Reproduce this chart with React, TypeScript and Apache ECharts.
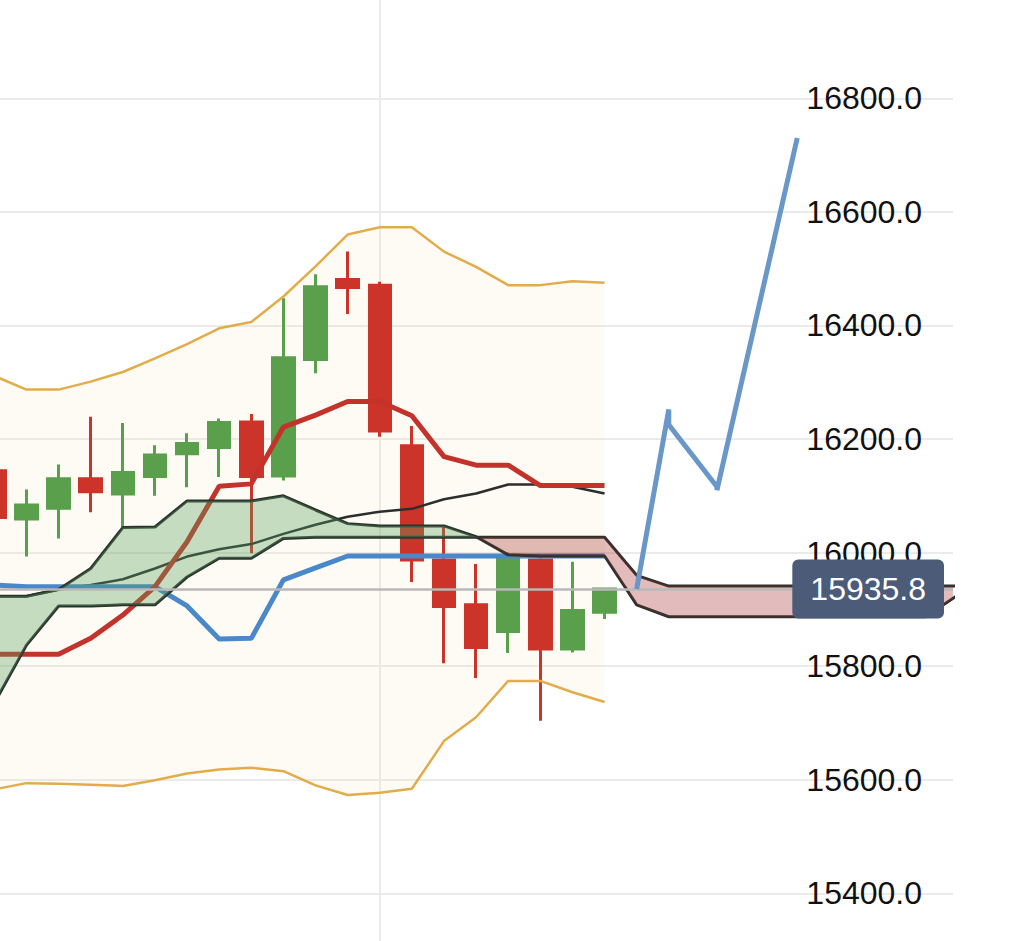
import React, { useEffect, useRef } from "react";
import * as echarts from "echarts";

// ---- data ----
const CANDLE_X = [0, 1, 2, 3, 4, 5, 6, 7, 8, 9, 10, 11, 12, 13, 14, 15, 16, 17, 18, 19];
const OPEN = [16144, 16059, 16078, 16130, 16103, 16134, 16174, 16185, 16230, 16135, 16340, 16481, 16471, 16188, 15987, 15908, 15861, 15987, 15830, 15895];
const CLOSE = [16062, 16084, 16130, 16107, 16141, 16172, 16192, 16229, 16134, 16343, 16468, 16467, 16214, 15987, 15905, 15833, 15991, 15830, 15898, 15935.8];
const LOW = [16040, 15993, 16025, 16071, 16045, 16100, 16115, 16133, 15999, 16127, 16316, 16420, 16204, 15948, 15805, 15779, 15823, 15704, 15824, 15883];
const HIGH = [16160, 16111, 16155, 16239, 16228, 16189, 16210, 16236, 16244, 16448, 16490, 16530, 16477, 16223, 16045, 15980, 16000, 15990, 15984, 15935.8];

const BB_UPPER = [16311, 16287, 16287, 16301, 16318, 16342, 16367, 16395, 16406, 16451, 16504, 16560, 16573, 16573, 16530, 16503, 16471, 16471, 16478, 16475];
const BB_MIDDLE = [15923, 15923, 15935, 15943, 15953, 15972, 15993, 16006, 16015, 16033, 16049, 16063, 16072, 16077, 16094, 16104, 16120, 16120, 16116, 16104];
const BB_LOWER = [15583, 15594, 15593, 15591, 15589, 15599, 15611, 15618, 15621, 15615, 15590, 15573, 15577, 15584, 15668, 15710, 15774, 15774, 15754, 15737];

const TENKAN = [15821, 15821, 15821, 15849, 15890, 15940, 16019, 16117, 16121, 16221, 16242, 16266, 16266, 16241, 16169, 16154, 16154, 16118, 16118, 16118];
const KIJUN = [15943, 15940, 15940, 15940, 15940, 15940, 15906, 15848, 15849, 15952, 15973, 15994, 15994, 15994, 15994, 15994, 15994, 15994, 15994, 15994];

const CLOUD_X = [0, 1, 2, 3, 4, 5, 6, 7, 8, 9, 10, 11, 12, 13, 14, 15, 16, 17, 18, 19, 20, 21, 22, 23, 24, 25, 26, 27, 28, 29, 30];
const SPAN_A = [15923, 15923, 15935, 15972, 16044, 16045, 16091, 16091, 16091, 16100, 16075, 16051, 16047, 16047, 16047, 16028, 15996, 15994, 15994, 15994, 15908, 15887, 15887, 15887, 15887, 15887, 15887, 15887, 15887, 15887, 15925];
const SPAN_B = [15735, 15837, 15906, 15906, 15908, 15908, 15957, 15990, 15990, 16025, 16027, 16027, 16027, 16027, 16027, 16027, 16027, 16027, 16027, 16027, 15960, 15941, 15941, 15941, 15941, 15941, 15941, 15941, 15941, 15941, 15941];

const FORECAST_X = [20, 21, 21, 22.5, 22.5, 25];
const FORECAST_Y = [15935.8, 16252, 16225, 16116, 16110, 16730];

const LAST_PRICE = 15935.8;

const Y_MIN = 15000;
const Y_MAX = 17200;
const Y_STEP = 200;
const Y_LABEL_MIN = 15400;
const Y_LABEL_MAX = 17000;
const X_MIN = -12;
const X_MAX = 29.85;
const X_STEP = 24;

// ---- styles ----
const UP = "#5a9f4b";
const DOWN = "#cd3429";
const GRID = "#ebebeb";
const FONT = "'Liberation Sans', Arial, Helvetica, sans-serif";

const pairs = (xs: number[], ys: number[]) => xs.map((x, i) => [x, ys[i]]);

const lineSeries = (name: string, xs: number[], ys: number[], color: string, width: number, z: number) => ({
  type: "line",
  name,
  data: pairs(xs, ys),
  symbol: "none",
  silent: true,
  clip: true,
  z,
  lineStyle: { color, width },
});

export default function App() {
  const ref = useRef<HTMLDivElement>(null);

  useEffect(() => {
    if (!ref.current) return;
    const chart = echarts.init(ref.current, null, { renderer: "svg" });

    const bandFill = (params: any, api: any) => {
      const top = CANDLE_X.map((x, i) => api.coord([x, BB_UPPER[i]]));
      const bot = CANDLE_X.map((x, i) => api.coord([x, BB_LOWER[i]]));
      return {
        type: "polygon",
        shape: { points: [...top, ...bot.reverse()] },
        style: { fill: "rgba(240,222,160,0.13)" },
      };
    };

    const cloudFill = (params: any, api: any) => {
      const children: any[] = [];
      let cur: any = null;
      const flush = () => {
        if (cur && cur.top.length > 1) {
          children.push({
            type: "polygon",
            shape: { points: [...cur.top, ...cur.bot.slice().reverse()] },
            style: { fill: cur.sign > 0 ? "rgba(90,160,95,0.34)" : "rgba(160,32,32,0.3)" },
          });
        }
      };
      for (let i = 0; i < CLOUD_X.length; i++) {
        const d = SPAN_A[i] - SPAN_B[i];
        const s = d >= 0 ? 1 : -1;
        const pa = api.coord([CLOUD_X[i], SPAN_A[i]]);
        const pb = api.coord([CLOUD_X[i], SPAN_B[i]]);
        if (!cur) {
          cur = { sign: s, top: [pa], bot: [pb] };
        } else if (s === cur.sign) {
          cur.top.push(pa);
          cur.bot.push(pb);
        } else {
          const dp = SPAN_A[i - 1] - SPAN_B[i - 1];
          const t = dp / (dp - d);
          const xc = CLOUD_X[i - 1] + t * (CLOUD_X[i] - CLOUD_X[i - 1]);
          const yc = SPAN_A[i - 1] + t * (SPAN_A[i] - SPAN_A[i - 1]);
          const pc = api.coord([xc, yc]);
          cur.top.push(pc);
          cur.bot.push(pc);
          flush();
          cur = { sign: s, top: [pc, pa], bot: [pc, pb] };
        }
      }
      flush();
      return { type: "group", children };
    };

    const option: any = {
      animation: false,
      backgroundColor: "#ffffff",
      grid: { left: 0, right: 58, top: 71.16, bottom: 20.56 },
      xAxis: {
        type: "value",
        min: X_MIN,
        max: X_MAX,
        interval: X_STEP,
        axisLine: { show: false },
        axisTick: { show: false },
        axisLabel: { show: false },
        splitLine: { show: true, showMinLine: false, showMaxLine: false, lineStyle: { color: GRID, width: 2 } },
      },
      yAxis: {
        type: "value",
        position: "right",
        min: Y_MIN,
        max: Y_MAX,
        interval: Y_STEP,
        axisLine: { show: false },
        axisTick: { show: false },
        axisLabel: {
          inside: true,
          margin: 31,
          fontSize: 32,
          color: "#111111",
          fontFamily: FONT,
          formatter: (v: number) => (v >= Y_LABEL_MIN && v <= Y_LABEL_MAX ? v.toFixed(1) : ""),
        },
        splitLine: { lineStyle: { color: GRID, width: 2 } },
      },
      series: [
        {
          type: "custom",
          name: "bbFill",
          silent: true,
          clip: true,
          z: 1,
          data: [[CANDLE_X[0], BB_MIDDLE[0]]],
          encode: { x: 0, y: 1 },
          renderItem: bandFill,
        },
        {
          type: "line",
          name: "price",
          data: [[CANDLE_X[CANDLE_X.length - 1], LAST_PRICE]],
          symbol: "none",
          lineStyle: { width: 0 },
          silent: true,
          z: 1.5,
          markLine: {
            silent: true,
            symbol: "none",
            label: { show: false },
            lineStyle: { color: "#b9b9b9", width: 2.5, type: "solid" },
            data: [{ yAxis: LAST_PRICE }],
          },
        },
        {
          type: "candlestick",
          name: "price-candles",
          data: CANDLE_X.map((x, i) => [x, OPEN[i], CLOSE[i], LOW[i], HIGH[i]]),
          encode: { x: 0, y: [1, 2, 3, 4] },
          barWidth: 22,
          silent: true,
          z: 2,
          itemStyle: { color: UP, color0: DOWN, borderColor: UP, borderColor0: DOWN, borderWidth: 3 },
        },
        lineSeries("bbUpper", CANDLE_X, BB_UPPER, "#e3ac4a", 2.5, 3),
        lineSeries("bbLower", CANDLE_X, BB_LOWER, "#e3ac4a", 2.5, 3),
        lineSeries("bbMiddle", CANDLE_X, BB_MIDDLE, "#2d2d2d", 2.5, 3),
        lineSeries("kijun", CANDLE_X, KIJUN, "#4a88c9", 5, 3),
        lineSeries("tenkan", CANDLE_X, TENKAN, "#c4322c", 5, 3),
        lineSeries("spanA", CLOUD_X, SPAN_A, "#2c332f", 3, 3.5),
        lineSeries("spanB", CLOUD_X, SPAN_B, "#2c332f", 3, 3.5),
        {
          type: "custom",
          name: "cloud",
          silent: true,
          clip: true,
          z: 4,
          data: [[CLOUD_X[0], SPAN_A[0]]],
          encode: { x: 0, y: 1 },
          renderItem: cloudFill,
        },
        lineSeries("forecast", FORECAST_X, FORECAST_Y, "#6897c8", 5, 5),
        {
          type: "line",
          name: "priceTag",
          data: [[CANDLE_X[CANDLE_X.length - 1], LAST_PRICE]],
          symbol: "none",
          lineStyle: { width: 0 },
          silent: true,
          z: 10,
          markLine: {
            silent: true,
            symbol: "none",
            lineStyle: { color: "rgba(0,0,0,0)", width: 1, opacity: 1 },
            label: {
              show: true,
              position: "insideEnd",
              distance: 9,
              opacity: 1,
              formatter: () => LAST_PRICE.toFixed(1),
              color: "#ffffff",
              fontSize: 32,
              fontFamily: FONT,
              backgroundColor: "#4b5b78",
              borderRadius: 6,
              padding: [14, 18, 13, 18],
            },
            data: [{ yAxis: LAST_PRICE }],
          },
        },
      ],
    };

    chart.setOption(option);
    return () => chart.dispose();
  }, []);

  return (
    <div
      ref={ref}
      style={{ position: "fixed", left: -391, top: -200, width: 1402, height: 1341, background: "#fff" }}
    />
  );
}
